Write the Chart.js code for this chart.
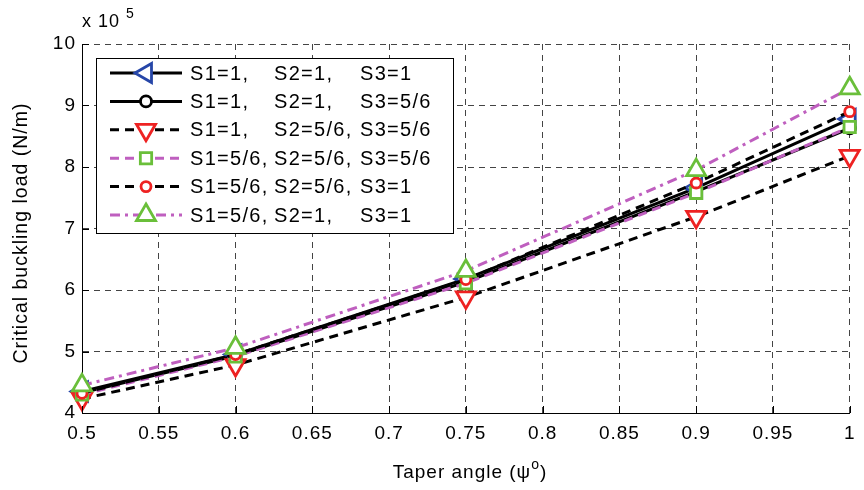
<!DOCTYPE html>
<html>
<head>
<meta charset="utf-8">
<script src="https://cdn.jsdelivr.net/npm/chart.js@4.4.1/dist/chart.umd.min.js"></script>
<style>
  html, body { margin: 0; padding: 0; background: #fff; }
  #wrap { width: 864px; height: 490px; position: relative; }
</style>
</head>
<body>
<div id="wrap"><canvas id="buckling"></canvas></div>
<script>
// Carga crítica de pandeo vs ángulo de conicidad (valores x 10^5 N/m)
const taperAngle = [0.5, 0.6, 0.75, 0.9, 1.0];
const loadA = [4.35, 4.95, 6.18, 7.66, 8.78]; // S1=1,   S2=1,   S3=1
const loadB = [4.33, 4.93, 6.13, 7.60, 8.63]; // S1=1,   S2=1,   S3=5/6
const loadC = [4.23, 4.78, 5.88, 7.19, 8.18]; // S1=1,   S2=5/6, S3=5/6
const loadD = [4.30, 4.92, 6.11, 7.58, 8.65]; // S1=5/6, S2=5/6, S3=5/6
const loadE = [4.32, 4.95, 6.17, 7.74, 8.90]; // S1=5/6, S2=5/6, S3=1
const loadF = [4.45, 5.06, 6.31, 7.95, 9.28]; // S1=5/6, S2=1,   S3=1

const seriesLabels = [
  'S1=1, S2=1, S3=1',
  'S1=1, S2=1, S3=5/6',
  'S1=1, S2=5/6, S3=5/6',
  'S1=5/6, S2=5/6, S3=5/6',
  'S1=5/6, S2=5/6, S3=1',
  'S1=5/6, S2=1, S3=1'
];

const xTicks = [0.5, 0.55, 0.6, 0.65, 0.7, 0.75, 0.8, 0.85, 0.9, 0.95, 1];
const yTicks = [4, 5, 6, 7, 8, 9, 10];

const FONT = '"Liberation Sans", Arial, Helvetica, sans-serif';
const MAGENTA = '#bf5fbf';
const GREEN = '#6abf3a';
const RED = '#ee2222';
const BLUE = '#2646a8';

const toXY = (vals) => taperAngle.map((x, i) => ({ x, y: vals[i] }));

const makeSet = (label, vals, line, marker, idx) => ({
  label,
  data: toXY(vals),
  borderColor: line.color,
  borderWidth: 3,
  borderDash: line.dash,
  pointStyle: marker.style,
  pointRotation: marker.rotation || 0,
  pointRadius: marker.radius,
  pointBorderColor: marker.color,
  pointBackgroundColor: '#ffffff',
  pointBorderWidth: 2.8,
  pointHoverRadius: marker.radius,
  tension: 0,
  fill: false,
  clip: false,
  order: 6 - idx
});

const datasets = [
  makeSet(seriesLabels[0], loadA, { color: '#000', dash: [] }, { style: 'triangle', rotation: -90, radius: 11, color: BLUE }, 0),
  makeSet(seriesLabels[1], loadB, { color: '#000', dash: [] }, { style: 'circle', radius: 5.5, color: '#000' }, 1),
  makeSet(seriesLabels[2], loadC, { color: '#000', dash: [9, 6] }, { style: 'triangle', rotation: 180, radius: 11, color: RED }, 2),
  makeSet(seriesLabels[3], loadD, { color: MAGENTA, dash: [9, 6] }, { style: 'rect', radius: 8, color: GREEN }, 3),
  makeSet(seriesLabels[4], loadE, { color: '#000', dash: [9, 6] }, { style: 'circle', radius: 5, color: RED }, 4),
  makeSet(seriesLabels[5], loadF, { color: MAGENTA, dash: [10, 5, 3, 5] }, { style: 'triangle', radius: 11, color: GREEN }, 5)
];

// Espaciado de letras algo más ancho, como en la figura original
const wideText = {
  id: 'wideText',
  beforeDraw(chart) {
    chart.ctx.letterSpacing = '1px';
  }
};

// Leyenda dentro del área de trazado, estilo Matlab
const boxLegend = {
  id: 'boxLegend',
  afterDatasetsDraw(chart) {
    const ctx = chart.ctx;
    const x0 = 96, y0 = 58, x1 = 453, y1 = 233;
    const cols = [190, 274, 360];
    ctx.save();
    ctx.fillStyle = '#fff';
    ctx.fillRect(x0, y0, x1 - x0, y1 - y0);
    ctx.strokeStyle = '#000';
    ctx.lineWidth = 1;
    ctx.setLineDash([]);
    ctx.strokeRect(x0 + 0.5, y0 + 0.5, x1 - x0, y1 - y0);
    const rowH = 28.4;
    chart.data.datasets.forEach((ds, i) => {
      const y = 73 + i * rowH;
      ctx.strokeStyle = ds.borderColor;
      ctx.lineWidth = ds.borderWidth;
      ctx.setLineDash(ds.borderDash);
      ctx.beginPath();
      ctx.moveTo(110, y);
      ctx.lineTo(182, y);
      ctx.stroke();
      ctx.setLineDash([]);
      ctx.strokeStyle = ds.pointBorderColor;
      ctx.fillStyle = ds.pointBackgroundColor;
      ctx.lineWidth = ds.pointBorderWidth;
      Chart.helpers.drawPoint(ctx, {
        pointStyle: ds.pointStyle,
        rotation: ds.pointRotation,
        radius: ds.pointRadius,
        borderWidth: ds.pointBorderWidth
      }, 146, y);
      ctx.fillStyle = '#000';
      ctx.font = '20px ' + FONT;
      ctx.letterSpacing = '1.3px';
      ctx.textBaseline = 'middle';
      ctx.textAlign = 'left';
      const parts = ds.label.split(' ');
      parts.forEach((p, k) => ctx.fillText(p, cols[k], y + 1));
    });
    ctx.restore();
  }
};

// Títulos de ejes, factor de escala y marcas interiores
const decorations = {
  id: 'decorations',
  afterDraw(chart) {
    const ctx = chart.ctx;
    const area = chart.chartArea;
    const xs = chart.scales.x, ys = chart.scales.y;
    ctx.save();
    ctx.strokeStyle = '#000';
    ctx.lineWidth = 1;
    ctx.setLineDash([]);
    ctx.beginPath();
    xTicks.forEach(v => {
      const px = Math.round(xs.getPixelForValue(v)) + 0.5;
      ctx.moveTo(px, area.bottom);
      ctx.lineTo(px, area.bottom - 7);
    });
    yTicks.forEach(v => {
      const py = Math.round(ys.getPixelForValue(v)) + 0.5;
      ctx.moveTo(area.left, py);
      ctx.lineTo(area.left + 7, py);
    });
    ctx.stroke();

    ctx.fillStyle = '#000';
    ctx.textBaseline = 'alphabetic';
    ctx.letterSpacing = '1px';
    // x 10^5
    ctx.font = '18px ' + FONT;
    ctx.textAlign = 'left';
    ctx.fillText('x 10', 82, 27);
    ctx.font = '14px ' + FONT;
    ctx.fillText('5', 126, 18);

    // Título eje X con superíndice
    ctx.font = '19px ' + FONT;
    const main = 'Taper angle (\u03c8';
    const wMain = ctx.measureText(main).width;
    ctx.font = '14px ' + FONT;
    const wSup = ctx.measureText('o').width;
    ctx.font = '19px ' + FONT;
    const wEnd = ctx.measureText(')').width;
    const total = wMain + wSup + wEnd;
    const sx = 470 - total / 2;
    const by = 478;
    ctx.fillText(main, sx, by);
    ctx.font = '14px ' + FONT;
    ctx.fillText('o', sx + wMain, by - 9);
    ctx.font = '19px ' + FONT;
    ctx.fillText(')', sx + wMain + wSup, by);

    // Título eje Y
    ctx.translate(22, 233);
    ctx.rotate(-Math.PI / 2);
    ctx.textAlign = 'center';
    ctx.textBaseline = 'middle';
    ctx.font = '19.5px ' + FONT;
    ctx.fillText('Critical buckling load (N/m)', 0, 0);
    ctx.restore();
  }
};

const gridStyle = {
  color: '#444',
  lineWidth: 1,
  drawTicks: false
};

const borderStyle = { display: true, color: '#000', width: 1, dash: [6, 5] };

new Chart(document.getElementById('buckling'), {
  type: 'line',
  data: { datasets },
  options: {
    responsive: true,
    maintainAspectRatio: false,
    animation: false,
    events: [],
    layout: { padding: { left: 0, top: 44, right: 4, bottom: 0 } },
    plugins: {
      legend: { display: false },
      title: { display: false },
      tooltip: { enabled: false }
    },
    scales: {
      x: {
        type: 'linear',
        min: 0.5,
        max: 1,
        afterFit: (s) => { s.height = 77; },
        afterBuildTicks: (s) => { s.ticks = xTicks.map(v => ({ value: v })); },
        ticks: {
          color: '#000',
          font: { family: FONT, size: 19 },
          padding: 9,
          maxRotation: 0,
          callback: (v) => String(v)
        },
        grid: gridStyle,
        border: borderStyle
      },
      y: {
        type: 'linear',
        min: 4,
        max: 10,
        afterFit: (s) => { s.width = 82; },
        afterBuildTicks: (s) => { s.ticks = yTicks.map(v => ({ value: v })); },
        ticks: {
          color: '#000',
          font: { family: FONT, size: 19 },
          padding: 6,
          callback: (v) => String(v)
        },
        grid: gridStyle,
        border: borderStyle
      }
    }
  },
  plugins: [wideText, boxLegend, decorations]
});
</script>
</body>
</html>
